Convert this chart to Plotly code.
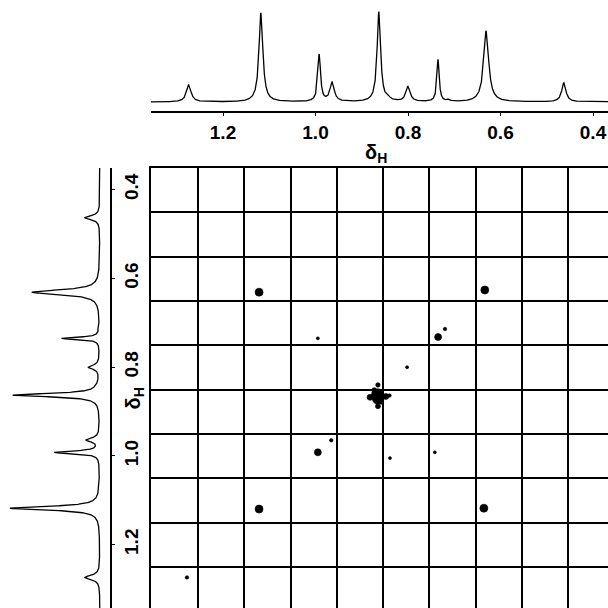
import numpy as np
import plotly.graph_objects as go

# ---- 1D proton spectrum: peak list (shift in ppm, height, line width) ----
shift_ppm = [1.274, 1.118, 0.992, 0.964, 0.863, 0.842, 0.800, 0.735, 0.712, 0.631, 0.463]
height_top = [0.17, 0.89, 0.47, 0.19, 0.90, 0.02, 0.15, 0.42, 0.02, 0.71, 0.19]
height_left = [0.15, 0.90, 0.45, 0.13, 0.87, 0.01, 0.11, 0.38, 0.01, 0.68, 0.15]
fwhm_ppm = [0.012, 0.010, 0.007, 0.011, 0.009, 0.010, 0.011, 0.006, 0.006, 0.013, 0.011]

# ---- 2D correlation map: contour spots (F2 shift, F1 shift, spot size) ----
cross_x = [1.122, 0.634, 0.735, 0.995, 0.966, 1.122, 0.636, 1.278,
           0.720, 0.802, 0.995, 0.839, 0.742,
           0.866, 0.866, 0.865, 0.882, 0.848, 0.840, 0.865, 0.873, 0.858]
cross_y = [0.631, 0.626, 0.732, 0.992, 0.965, 1.120, 1.118, 1.274,
           0.714, 0.800, 0.735, 1.005, 0.992,
           0.862, 0.872, 0.840, 0.868, 0.866, 0.864, 0.888, 0.852, 0.878]
cross_size = [8, 8, 7, 7, 3.5, 8, 8, 3.5,
              3.5, 3, 3, 3, 3,
              12, 10, 4.5, 6, 6, 3.5, 5, 5, 5]

tick_vals = [1.2, 1.0, 0.8, 0.6, 0.4]
tick_text = ["1.2", "1.0", "0.8", "0.6", "0.4"]
axis_title = "δ<sub>H</sub>"

x_range = [1.3557, 0.3676]
y_range = [1.343, 0.351]


def lorentz_sum(ppm, centers, heights, widths):
    out = np.zeros_like(ppm)
    for c, h, w in zip(centers, heights, widths):
        out += h / (1.0 + ((ppm - c) / (w / 2.0)) ** 2)
    return out


ppm = np.linspace(0.30, 1.40, 4401)
spec_top = lorentz_sum(ppm, shift_ppm, height_top, fwhm_ppm)
spec_left = lorentz_sum(ppm, shift_ppm, height_left, fwhm_ppm)

label_font = dict(family="Liberation Sans, Arial, sans-serif", size=19,
                  color="black", weight="bold")
title_font = dict(family="Liberation Sans, Arial, sans-serif", size=20,
                  color="black", weight="bold")

fig = go.Figure()

# top projection
fig.add_trace(go.Scatter(x=ppm, y=spec_top, mode="lines",
                         line=dict(color="black", width=1.3),
                         xaxis="x", yaxis="y", hoverinfo="skip"))
# left projection (intensity grows to the left)
fig.add_trace(go.Scatter(x=spec_left, y=ppm, mode="lines",
                         line=dict(color="black", width=1.3),
                         xaxis="x3", yaxis="y3", hoverinfo="skip"))
# correlation spots
fig.add_trace(go.Scatter(x=cross_x, y=cross_y, mode="markers",
                         opacity=1,
                         marker=dict(size=cross_size, color="#000000",
                                     opacity=1,
                                     line=dict(width=0.6, color="#000000")),
                         xaxis="x2", yaxis="y2", hoverinfo="skip"))

W = 608.0
fig.update_layout(
    width=608, height=608,
    margin=dict(l=0, r=0, t=0, b=0),
    paper_bgcolor="white", plot_bgcolor="white",
    showlegend=False,
    xaxis=dict(domain=[151 / W, 1], range=x_range, anchor="y",
               showline=True, linecolor="black", linewidth=1.5,
               ticks="outside", ticklen=3, tickwidth=1.2, tickcolor="black",
               tickvals=tick_vals, ticktext=tick_text, tickfont=label_font,
               ticklabeloverflow="allow",
               showgrid=False, zeroline=False),
    yaxis=dict(domain=[(W - 111) / W, (W - 1) / W], range=[-0.09, 1.01],
               anchor="x", visible=False),
    xaxis2=dict(domain=[151 / W, 1], range=x_range, anchor="y2", side="top",
                showline=True, linecolor="black", linewidth=2,
                showgrid=True, gridcolor="black", gridwidth=1.8,
                tickmode="linear", tick0=0.454, dtick=0.1,
                showticklabels=False, ticks="", zeroline=False),
    yaxis2=dict(domain=[0, (W - 168) / W], range=y_range, anchor="x2",
                side="left",
                showline=True, linecolor="black", linewidth=2,
                showgrid=True, gridcolor="black", gridwidth=1.8,
                tickmode="linear", tick0=0.351, dtick=0.1,
                showticklabels=False, ticks="", zeroline=False),
    xaxis3=dict(domain=[0, 110 / W], range=[1.0, -0.1], anchor="y3",
                visible=False),
    yaxis3=dict(domain=[0, (W - 168) / W], range=y_range, anchor="x3",
                side="right",
                showline=True, linecolor="black", linewidth=1.5,
                ticks="outside", ticklen=3, tickwidth=1.2, tickcolor="black",
                tickvals=tick_vals, ticktext=tick_text, tickfont=label_font,
                tickangle=-90, ticklabeloverflow="allow",
                showgrid=False, zeroline=False),
    annotations=[
        dict(text=axis_title, x=376 / W, y=(W - 139) / W,
             xref="paper", yref="paper", showarrow=False, font=title_font),
        dict(text=axis_title, x=119 / W, y=(W - 399) / W, textangle=-90,
             xref="paper", yref="paper", showarrow=False, font=title_font),
    ],
)

fig.write_html("out.html")
